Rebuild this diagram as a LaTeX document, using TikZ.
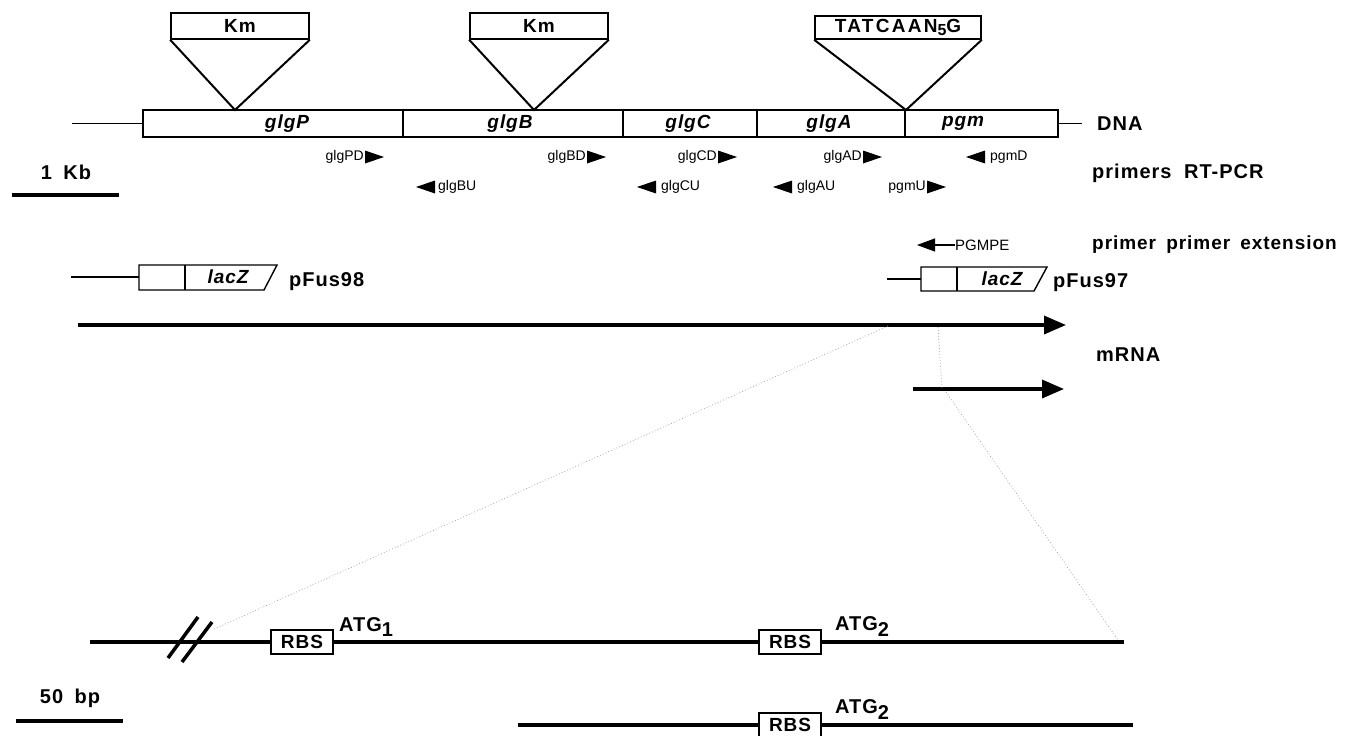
\documentclass[tikz,border=0pt]{standalone}
\usepackage{fontspec}
\setmainfont{Liberation Sans}
\newfontfamily\lbl[LetterSpace=5]{Liberation Sans}
\newfontfamily\lblw[LetterSpace=12]{Liberation Sans}
\usetikzlibrary{arrows.meta}
\begin{document}
\begin{tikzpicture}[x=1pt,y=-1pt,
  big/.style={font=\lbl\bfseries\fontsize{20}{22}\selectfont, inner sep=0pt},
  genetxt/.style={font=\lbl\bfseries\itshape\fontsize{19}{21}\selectfont, inner sep=0pt},
  genebox/.style={draw, line width=1.4pt, minimum height=27pt, inner sep=0pt},
  insbox/.style={draw, line width=1.6pt, inner sep=0pt, font=\lbl\bfseries\fontsize{19}{21}\selectfont},
  prim/.style={font=\fontsize{14}{16}\selectfont, inner sep=0pt},
  rbsbox/.style={draw, line width=1.6pt, minimum width=62pt, minimum height=24pt, inner sep=0pt, font=\lbl\bfseries\fontsize{19}{21}\selectfont},
  thin line/.style={line width=1.4pt},
  heavy/.style={line width=3.5pt},
  zoomline/.style={gray!75, line width=0.7pt, dash pattern=on 0.8pt off 2.2pt},
  rtri/.pic={\fill (0,-6.5) -- (19,0) -- (0,6.5) -- cycle;},
  ltri/.pic={\fill (0,-6.5) -- (-19,0) -- (0,6.5) -- cycle;},
]
\useasboundingbox (0,0) rectangle (1347,736);

% ---------- DNA ----------
\coordinate (dnaL) at (72,123.5);
\coordinate (dnaR) at (1082,123.5);
\node[genebox, minimum width=260pt] (gP) at (273,123.5) {};
\node[genebox, minimum width=220pt] (gB) at (513,123.5) {};
\node[genebox, minimum width=134pt] (gC) at (690,123.5) {};
\node[genebox, minimum width=148pt] (gA) at (831,123.5) {};
\node[genebox, minimum width=153pt] (gpgm) at (981.5,123.5) {};
\draw[thin line] (dnaL) -- (gP.west);
\draw[thin line] (gpgm.east) -- (dnaR);
\node[genetxt] (tP) at (287,123.5) {glgP};
\node[genetxt] (tB) at (510,123.5) {glgB};
\node[genetxt] (tC) at (688,123.5) {glgC};
\node[genetxt] (tA) at (829,123.5) {glgA};
\node[genetxt] (tpgm) at (963,123.5) {pgm};
\node[big, anchor=base west] (dna) at (1097,130) {DNA};

% ---------- insertions ----------
\node[insbox, minimum width=138pt, minimum height=26pt] (km1) at (240,26) {Km};
\node[insbox, minimum width=138pt, minimum height=26pt] (km2) at (539,26) {Km};
\node[insbox, minimum width=166pt, minimum height=23pt, font=\lblw\bfseries\fontsize{19}{21}\selectfont] (tat) at (898,27.5) {TATCAAN\raisebox{-3pt}{\fontsize{16}{16}\selectfont 5}G};
\coordinate (a1) at (235,110);
\coordinate (a2) at (534,110);
\coordinate (a3) at (906,110);
\draw[line width=2pt] (km1.south west) -- (a1) -- (km1.south east);
\draw[line width=2pt] (km2.south west) -- (a2) -- (km2.south east);
\draw[line width=2pt] (tat.south west) -- (a3) -- (tat.south east);

% ---------- primers ----------
\node[prim, anchor=east] (glgPD) at (364,157) {glgPD};
\pic at ([xshift=1pt]glgPD.east) {rtri};
\node[prim, anchor=east] (glgBD) at (586,157) {glgBD};
\pic at ([xshift=1pt]glgBD.east) {rtri};
\node[prim, anchor=east] (glgCD) at (717,157) {glgCD};
\pic at ([xshift=1pt]glgCD.east) {rtri};
\node[prim, anchor=east] (glgAD) at (862,157) {glgAD};
\pic at ([xshift=1pt]glgAD.east) {rtri};
\node[prim, anchor=west] (pgmD) at (990,157) {pgmD};
\pic at ([xshift=-5pt]pgmD.west) {ltri};

\node[prim, anchor=west] (glgBU) at (438,187) {glgBU};
\pic at ([xshift=-3pt]glgBU.west) {ltri};
\node[prim, anchor=west] (glgCU) at (661,187) {glgCU};
\pic at ([xshift=-5pt]glgCU.west) {ltri};
\node[prim, anchor=west] (glgAU) at (797,187) {glgAU};
\pic at ([xshift=-5pt]glgAU.west) {ltri};
\node[prim, anchor=east] (pgmU) at (926,187) {pgmU};
\pic at ([xshift=1pt]pgmU.east) {rtri};

\node[big, anchor=base west] (rtpcr) at (1092,178) {primers\hspace{6pt} RT-PCR};

% scale 1 kb
\node[big, anchor=base] (kb) at (66,179) {1\hspace{5pt} Kb};
\coordinate (kbL) at (12,195);
\coordinate (kbR) at (119,195);
\draw[heavy] (kbL) -- (kbR);

% ---------- primer extension ----------
\node[prim, anchor=west, font=\fontsize{15}{16}\selectfont] (pgmpe) at (955,245) {PGMPE};
\coordinate (peTip) at (917,245);
\draw[line width=1.2pt, -{Triangle[length=18pt,width=13pt]}] (pgmpe.west) -- (peTip);
\node[big, anchor=base west, font=\lbl\bfseries\fontsize{19}{21}\selectfont] (pext) at (1092,249) {primer\hspace{4pt} primer\hspace{4pt} extension};

% ---------- fusions ----------
\coordinate (f8a) at (71,277);
\coordinate (f8b) at (139,277);
\draw[thin line] (f8a) -- (f8b);
\draw[thin line] (139,265) -- (277,265) -- (264,290) -- (139,290) -- cycle;
\draw[thin line] (185,265) -- (185,290);
\node[genetxt] (lz8) at (228,277) {lacZ};
\node[big, anchor=base west] (pf98) at (289,286) {pFus98};

\coordinate (f7a) at (887,279);
\coordinate (f7b) at (921,279);
\draw[thin line] (f7a) -- (f7b);
\draw[thin line] (921,267) -- (1047,267) -- (1034,291) -- (921,291) -- cycle;
\draw[thin line] (957,267) -- (957,291);
\node[genetxt] (lz7) at (1002,279) {lacZ};
\node[big, anchor=base west] (pf97) at (1053,287) {pFus97};

% ---------- mRNA ----------
\coordinate (m1s) at (78,325);
\coordinate (m1e) at (1066,325);
\coordinate (m2s) at (913,389);
\coordinate (m2e) at (1064,389);
\draw[heavy, -{Triangle[length=22pt,width=18pt]}] (m1s) -- (m1e);
\draw[heavy, -{Triangle[length=22pt,width=18pt]}] (m2s) -- (m2e);
\node[big, anchor=base west] (mrna) at (1096,361) {mRNA};

% ---------- zoom lines ----------
\coordinate (z1a) at (888,326);
\coordinate (z1b) at (212,630);
\coordinate (z2a) at (938,327);
\coordinate (z2b) at (942,388);
\coordinate (z3a) at (946,392);
\coordinate (z3b) at (1118,640);
\draw[zoomline] (z1a) -- (z1b);
\draw[zoomline] (z2a) -- (z2b);
\draw[zoomline] (z3a) -- (z3b);

% ---------- promoter region ----------
\node[rbsbox] (r1) at (302,642) {RBS};
\node[rbsbox] (r2) at (790,642) {RBS};
\node[rbsbox] (r3) at (790,725) {RBS};
\coordinate (l1a) at (90,642);
\coordinate (l1b) at (1124,642);
\coordinate (l2a) at (518,725);
\coordinate (l2b) at (1133,725);
\draw[heavy] (l1a) -- (r1.west);
\draw[heavy] (r1.east) -- (r2.west);
\draw[heavy] (r2.east) -- (l1b);
\draw[heavy] (l2a) -- (r3.west);
\draw[heavy] (r3.east) -- (l2b);
\draw[heavy] (168,658) -- (198,617);
\draw[heavy] (182,662) -- (212,622);
\node[big, anchor=base west] (atg1) at (339,631) {ATG\raisebox{-5pt}{1}};
\node[big, anchor=base west] (atg2) at (835,630) {ATG\raisebox{-6pt}{2}};
\node[big, anchor=base west] (atg3) at (835,713) {ATG\raisebox{-6pt}{2}};

% scale 50 bp
\node[big, anchor=base] (bp) at (70,703) {50\hspace{5pt} bp};
\coordinate (bpL) at (16,721);
\coordinate (bpR) at (123,721);
\draw[heavy] (bpL) -- (bpR);
\end{tikzpicture}
\end{document}
